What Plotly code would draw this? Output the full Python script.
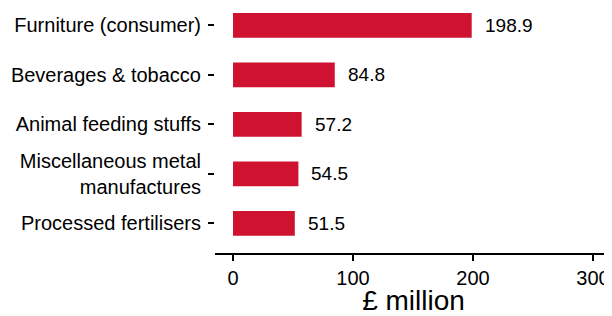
import plotly.graph_objects as go

categories = ["Processed fertilisers", "Miscellaneous metal<br>manufactures",
              "Animal feeding stuffs", "Beverages & tobacco", "Furniture (consumer)"]
values = [51.5, 54.5, 57.2, 84.8, 198.9]
value_labels = ["51.5", "54.5", "57.2", "84.8", "198.9"]
x_ticks = [0, 100, 200, 300]

FONT = "Liberation Sans, Arial, sans-serif"

fig = go.Figure()
fig.add_trace(go.Bar(
    y=categories, x=values, orientation="h",
    marker=dict(color="#CE1230", line=dict(width=0)),
    width=0.5, hoverinfo="skip",
))
for c, v, t in zip(categories, values, value_labels):
    fig.add_annotation(x=v, y=c, text=t, showarrow=False, xanchor="left",
                       xshift=11, font=dict(family=FONT, size=19, color="black"))

fig.update_layout(
    width=604, height=308,
    margin=dict(l=207, r=0, t=0, b=63),
    paper_bgcolor="white", plot_bgcolor="white",
    showlegend=False,
    font=dict(family=FONT, size=19, color="black"),
    xaxis=dict(range=[-15, 315.8], tickvals=x_ticks, ticks="outside", ticklen=6,
               tickwidth=1.5, tickcolor="black", showline=True, linecolor="black",
               linewidth=2, showgrid=False, zeroline=False, automargin=False,
               tickfont=dict(size=20), ticklabeloverflow="allow",
               title=dict(text="£ million", font=dict(size=28), standoff=3)),
    yaxis=dict(type="category", categoryarray=categories, range=[-0.6, 4.349],
               ticks="outside", ticklen=6, tickwidth=1.5, tickcolor="black",
               showline=False, showgrid=False, zeroline=False, automargin=False,
               ticklabelstandoff=3,
               tickfont=dict(size=20)),
)
fig.write_html("out.html")
